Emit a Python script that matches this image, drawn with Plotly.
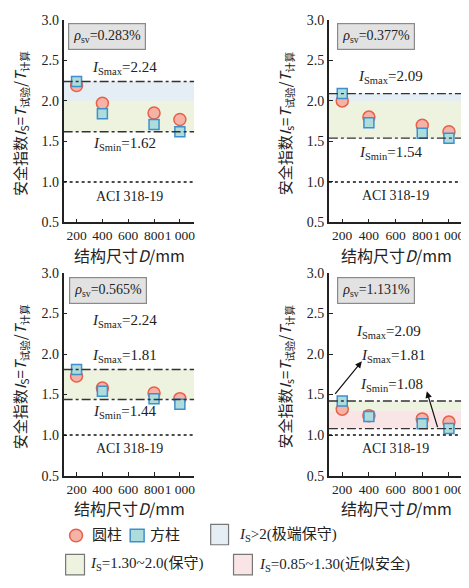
import plotly.graph_objects as go

W, H = 469, 588
OFF = 8            # browser default body margin
FW, FH = W - OFF, H - 2 * OFF

# ---------------- data ----------------
D = [200, 400, 800, 1000]
xtick_vals = [200, 400, 600, 800, 1000]
xtick_text = ["200", "400", "600", "800", "1 000"]
ytick_vals = [0.5, 1.0, 1.5, 2.0, 2.5, 3.0]

rho_labels = ["0.283%", "0.377%", "0.565%", "1.131%"]
circ = [
    [2.19, 1.97, 1.85, 1.77],
    [2.00, 1.80, 1.70, 1.62],
    [1.73, 1.58, 1.52, 1.45],
    [1.32, 1.24, 1.20, 1.16],
]
sq = [
    [2.24, 1.84, 1.71, 1.62],
    [2.09, 1.73, 1.60, 1.54],
    [1.81, 1.54, 1.45, 1.38],
    [1.42, 1.23, 1.14, 1.08],
]
# dash-dot reference lines (Smax, Smin)
ref_lines = [[2.24, 1.62], [2.09, 1.54], [1.81, 1.44], [1.42, 1.08]]
# bands: (y0, y1, kind)
bands = [
    [(2.0, 2.24, "blue"), (1.62, 2.0, "green")],
    [(2.0, 2.09, "blue"), (1.54, 2.0, "green")],
    [(1.44, 1.81, "green")],
    [(1.30, 1.42, "green"), (1.08, 1.30, "pink")],
]
# text labels (x, y, text)
labels = [
    [(569, 2.41, "<i>I</i><sub>Smax</sub>=2.24"), (569, 1.47, "<i>I</i><sub>Smin</sub>=1.62")],
    [(565, 2.29, "<i>I</i><sub>Smax</sub>=2.09"), (563, 1.36, "<i>I</i><sub>Smin</sub>=1.54")],
    [(569, 2.41, "<i>I</i><sub>Smax</sub>=2.24"), (571, 1.98, "<i>I</i><sub>Smax</sub>=1.81"),
     (569, 1.28, "<i>I</i><sub>Smin</sub>=1.44")],
    [(550, 2.27, "<i>I</i><sub>Smax</sub>=2.09"), (583, 1.98, "<i>I</i><sub>Smax</sub>=1.81"),
     (568, 1.62, "<i>I</i><sub>Smin</sub>=1.08")],
]
aci_y = [0.82, 0.83, 0.84, 0.84]
aci_x = [608, 602, 608, 602]
rho_pos = [(438, 2.79), (451, 2.79), (446, 2.78), (451, 2.78)]
ytitle_sub = ["S", "s", "S", "s"]

# ---------------- styles ----------------
band_col = {"blue": "#e4eef4", "green": "#eef3e0", "pink": "#f9e5e5"}
SERIF = "Liberation Serif, 'Noto Sans CJK SC', serif"
CJK = "'Noto Sans CJK SC', 'Liberation Serif', serif"
C_FILL, C_LINE = "#f5b2a6", "#e8604a"
S_FILL, S_LINE = "#acdcdc", "#3f8fcb"

# panel geometry in page pixels: (left, top, bottom, px_per_unit_x, x range)
panels = [
    (64, 13, 221, 0.13, [100, 1110]),
    (331, 13, 221, 0.13425, [100, 1095]),
    (64, 273, 481, 0.13, [100, 1110]),
    (331, 273, 481, 0.13425, [100, 1095]),
]

def px(x):
    return (x - OFF) / FW

def py(y):
    return 1 - (y - OFF) / FH

fig = go.Figure()
layout = dict(
    width=FW, height=FH, margin=dict(l=0, r=0, t=0, b=0),
    paper_bgcolor="white", plot_bgcolor="white", showlegend=False,
    annotations=[], shapes=[],
)

for i in range(4):
    n = "" if i == 0 else str(i + 1)
    xa, ya = "x" + n, "y" + n
    left, top, bot, ppu, XR = panels[i]
    right = left + (XR[1] - XR[0]) * ppu
    common = dict(showline=True, linecolor="#222", linewidth=1.5, ticks="inside",
                  ticklen=4, tickcolor="#222", tickwidth=1.2, showgrid=False, zeroline=False,
                  tickfont=dict(family=SERIF, size=14, color="#222"))
    layout["xaxis" + n] = dict(domain=[px(left), min(1.0, px(right))], anchor=ya, range=XR,
                               tickangle=0, tickvals=xtick_vals, ticktext=xtick_text,
                               ticklabeloverflow="allow", **common)
    layout["xaxis" + n]["tickfont"] = dict(family=SERIF, size=13.5, color="#222")
    layout["yaxis" + n] = dict(domain=[py(bot), py(top)], anchor=xa, range=[0.5, 3.0],
                               tickvals=ytick_vals, tickformat=".1f", **common)

    # bands
    for (y0, y1, kind) in bands[i]:
        layout["shapes"].append(dict(type="rect", xref=xa + " domain", yref=ya, x0=0, x1=1,
                                     y0=y0, y1=y1, fillcolor=band_col[kind], line_width=0,
                                     layer="below"))
    # dash-dot lines
    for yv in ref_lines[i]:
        layout["shapes"].append(dict(type="line", xref=xa + " domain", yref=ya, x0=0, x1=1,
                                     y0=yv, y1=yv, line=dict(color="#333", width=1.4, dash="dashdot")))
    # ACI line
    layout["shapes"].append(dict(type="line", xref=xa + " domain", yref=ya, x0=0, x1=1,
                                 y0=1.0, y1=1.0, line=dict(color="#111", width=1.5, dash="dot")))

    # markers
    fig.add_trace(go.Scatter(x=D, y=circ[i], mode="markers", xaxis=xa, yaxis=ya,
                             marker=dict(symbol="circle", size=12, color=C_FILL,
                                         line=dict(color=C_LINE, width=1.5))))
    fig.add_trace(go.Scatter(x=D, y=sq[i], mode="markers", xaxis=xa, yaxis=ya,
                             marker=dict(symbol="square", size=10, color=S_FILL,
                                         line=dict(color=S_LINE, width=1.5))))

    # labels
    for (lx, ly, t) in labels[i]:
        layout["annotations"].append(dict(x=lx, y=ly, xref=xa, yref=ya, text=t, showarrow=False,
                                          xanchor="center", yanchor="middle",
                                          font=dict(family=SERIF, size=15, color="#222")))
    layout["annotations"].append(dict(x=aci_x[i], y=aci_y[i], xref=xa, yref=ya, text="ACI 318-19",
                                      showarrow=False, xanchor="center", yanchor="middle",
                                      font=dict(family=SERIF, size=14, color="#222")))
    rx, ry = rho_pos[i]
    layout["annotations"].append(dict(x=rx, y=ry, xref=xa, yref=ya,
                                      text="<i>ρ</i><sub>sv</sub>=" + rho_labels[i], showarrow=False,
                                      xanchor="center", yanchor="middle",
                                      font=dict(family=SERIF, size=14, color="#222"),
                                      bgcolor="#e2e2e2", bordercolor="#8a8a8a", borderwidth=1.2,
                                      borderpad=4))
    # axis titles
    xc = left + (600 - XR[0]) * ppu + 1
    layout["annotations"].append(dict(x=px(xc), y=py(bot + 33), xref="paper", yref="paper",
                                      xanchor="center", yanchor="middle",
                                      text="结构尺寸<i>D</i>/mm", showarrow=False,
                                      font=dict(family=CJK, size=16, color="#222")))
    layout["annotations"].append(dict(x=px(left - 44), y=py((top + bot) / 2 + 2), xref="paper",
                                      yref="paper", textangle=-90, showarrow=False,
                                      xanchor="center", yanchor="middle",
                                      text="安全指数<i>I</i><sub>" + ytitle_sub[i] + "</sub>=<i>T</i><sub>试验</sub>/<i>T</i><sub>计算</sub>",
                                      font=dict(family=CJK, size=15, color="#222")))

# arrows in panel 4
for (hx, hy, tx, ty) in [(347, 1.91, 138, 1.49), (834, 1.54, 918, 1.08)]:
    layout["annotations"].append(dict(x=hx, y=hy, ax=tx, ay=ty, xref="x4", yref="y4",
                                      axref="x4", ayref="y4", text="", showarrow=True,
                                      arrowhead=2, arrowsize=1.1, arrowwidth=1.2, arrowcolor="#111"))

# ---------------- legend (drawn manually) ----------------
def rect_px(x0, y0, x1, y1, **kw):
    return dict(xref="paper", yref="paper", x0=px(x0), x1=px(x1), y0=py(y1), y1=py(y0), **kw)

layout["shapes"].append(rect_px(70, 536, 83, 549, type="circle", fillcolor=C_FILL,
                                line=dict(color=C_LINE, width=1.5)))
layout["shapes"].append(rect_px(131, 536, 145, 549, type="rect", fillcolor=S_FILL,
                                line=dict(color=S_LINE, width=1.5)))
layout["shapes"].append(rect_px(212, 531, 230, 552, type="rect", fillcolor=band_col["blue"],
                                line=dict(color="#777", width=1.2)))
layout["shapes"].append(rect_px(66, 562, 85, 583, type="rect", fillcolor=band_col["green"],
                                line=dict(color="#777", width=1.2)))
layout["shapes"].append(rect_px(235, 562, 254, 583, type="rect", fillcolor=band_col["pink"],
                                line=dict(color="#777", width=1.2)))

leg_text = [
    (91, 542, "圆柱"),
    (149, 542, "方柱"),
    (239, 542, "<i>I</i><sub>S</sub>>2(极端保守)"),
    (89, 572, "<i>I</i><sub>S</sub>=1.30~2.0(保守)"),
    (259, 572, "<i>I</i><sub>S</sub>=0.85~1.30(近似安全)"),
]
for (lx, ly, t) in leg_text:
    layout["annotations"].append(dict(x=px(lx), y=py(ly), xref="paper", yref="paper", text=t,
                                      showarrow=False, xanchor="left", yanchor="middle",
                                      font=dict(family=SERIF, size=15, color="#222")))

fig.update_layout(**layout)
fig.write_html("out.html")
